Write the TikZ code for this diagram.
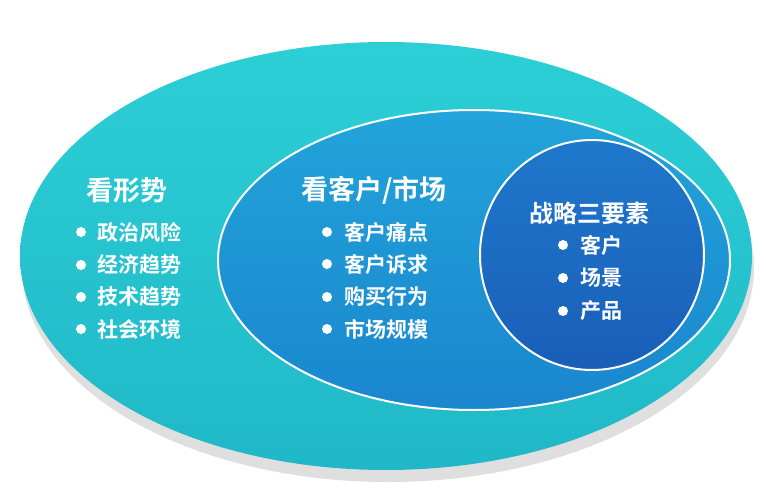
\documentclass[tikz,border=0pt]{standalone}
\usepackage{fontspec}
\newfontfamily\cjk{Noto Sans CJK SC Bold}
\usetikzlibrary{shapes.geometric}
\definecolor{outerc}{HTML}{2CCFD6}
\definecolor{outerd}{HTML}{20B8C8}
\definecolor{midc}{HTML}{22A4DA}
\definecolor{midd}{HTML}{1A86CE}
\definecolor{innc}{HTML}{1E78CC}
\definecolor{innd}{HTML}{1A5EB8}
\tikzset{
  title/.style={text=white,font=\cjk\fontsize{27}{29}\selectfont,inner sep=0pt},
  item/.style={text=white,font=\cjk\fontsize{21}{23}\selectfont,anchor=west,inner sep=0pt},
  dot/.style={circle,fill=white,inner sep=0pt,minimum size=10pt},
}
\begin{document}
\begin{tikzpicture}[x=1pt,y=-1pt]
\useasboundingbox (0,0) rectangle (766,500);
\fill[gray!25] (388,268) ellipse [x radius=366,y radius=214];
\node (outer) [ellipse,minimum width=732pt,minimum height=428pt,inner sep=0pt,
  top color=outerc,bottom color=outerd] at (386,256) {};
\shade[top color=midc,bottom color=midd,draw=white,line width=2pt] (474,260) ellipse [x radius=256,y radius=150];
\coordinate (mid) at (474,260);
\shade[top color=innc,bottom color=innd,draw=white,line width=2pt] (592,255) ellipse [x radius=112,y radius=115];
\coordinate (inn) at (592,255);
% left
\node[title] (t1) at (127,190) {看形势};
\foreach \y/\t [count=\i] in {232/政治风险,265/经济趋势,297/技术趋势,329/社会环境}{
  \node[dot] (d1\i) at (81,\y) {};
  \node[item] (i1\i) at (97,\y) {\t};
}
% middle
\node[title] (t2) at (374,190) {看客户/市场};
\foreach \y/\t [count=\i] in {232/客户痛点,264/客户诉求,297/购买行为,329/市场规模}{
  \node[dot] (d2\i) at (327,\y) {};
  \node[item] (i2\i) at (344,\y) {\t};
}
% inner
\node[title,font=\cjk\fontsize{24}{26}\selectfont] (t3) at (589,213) {战略三要素};
\foreach \y/\t [count=\i] in {245/客户,278/场景,311/产品}{
  \node[dot] (d3\i) at (563,\y) {};
  \node[item] (i3\i) at (580,\y) {\t};
}
\end{tikzpicture}
\end{document}
